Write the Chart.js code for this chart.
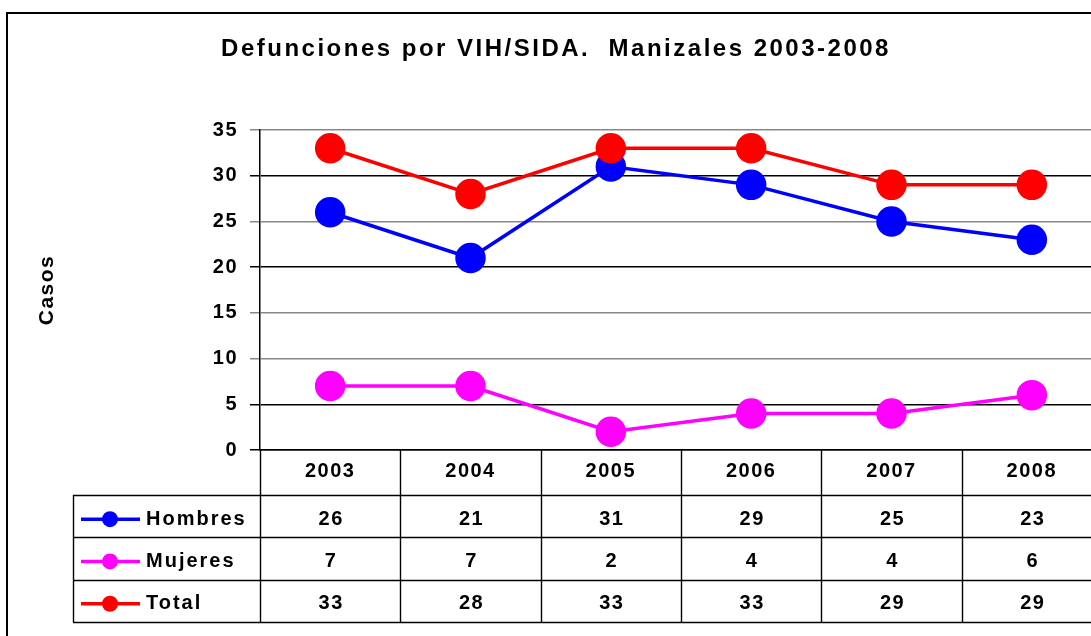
<!DOCTYPE html>
<html lang="es">
<head>
  <meta charset="UTF-8">
  <title>Defunciones por VIH/SIDA</title>
  <style>
    body { margin: 0; background: #fff; overflow: hidden; }
    #wrap { position: absolute; left: 0; top: 0; width: 1119px; height: 636px; }
    #frame {
      position: absolute; left: 6px; top: 12px; width: 1110px; height: 640px;
      border-left: 2px solid #000; border-top: 2px solid #000;
      pointer-events: none;
    }
  </style>
</head>
<body>
  <div id="wrap"><canvas id="chart" width="1119" height="636"></canvas></div>
  <div id="frame"></div>

  <script src="https://cdn.jsdelivr.net/npm/chart.js"></script>
  <script>
    const FONT = '"Liberation Sans", Arial, sans-serif';

    const years   = ['2003', '2004', '2005', '2006', '2007', '2008'];
    const hombres = [26, 21, 31, 29, 25, 23];
    const mujeres = [7, 7, 2, 4, 4, 6];
    const total   = [33, 28, 33, 33, 29, 29];
    const seriesNames  = ['Hombres', 'Mujeres', 'Total'];
    const seriesColors = ['#0000ff', '#ff00ff', '#ff0000'];
    const yTicks = [0, 5, 10, 15, 20, 25, 30, 35];
    const darkLines = [0, 5, 20, 30];

    // el texto original es mas ancho: se abre con letterSpacing
    const spacing = {
      id: 'spacing',
      beforeDraw(chart) {
        chart.ctx.letterSpacing = '1.5px';
        const tb = chart.titleBlock;
        if (tb && !tb._wrapped) {
          const orig = tb.draw.bind(tb);
          tb.draw = function () {
            chart.ctx.save();
            chart.ctx.letterSpacing = '2.5px';
            orig();
            chart.ctx.restore();
          };
          tb._wrapped = true;
        }
      }
    };

    // tabla de datos bajo el eje x (leyenda + valores)
    const dataTable = {
      id: 'dataTable',
      afterDraw(chart) {
        const ctx = chart.ctx, x = chart.scales.x, area = chart.chartArea;
        const rowH = 42.3, headH = 45;
        const top = area.bottom + headH;
        const legL = 73;
        const right = chart.width;
        const step = x.getPixelForValue(1) - x.getPixelForValue(0);
        ctx.save();
        ctx.strokeStyle = '#000';
        ctx.lineWidth = 1.4;
        for (let r = 0; r <= 3; r++) {
          const y = Math.round(top + r * rowH) + 0.5;
          ctx.beginPath(); ctx.moveTo(legL, y); ctx.lineTo(right, y); ctx.stroke();
        }
        const bottom = Math.round(top + 3 * rowH) + 0.5;
        ctx.beginPath(); ctx.moveTo(legL + 0.5, top); ctx.lineTo(legL + 0.5, bottom); ctx.stroke();
        for (let i = 0; i <= years.length; i++) {
          const bx = Math.round(x.getPixelForValue(i) - step / 2) + 0.5;
          ctx.beginPath(); ctx.moveTo(bx, area.bottom); ctx.lineTo(bx, bottom); ctx.stroke();
        }
        ctx.font = 'bold 20px ' + FONT;
        ctx.textBaseline = 'middle';
        chart.data.datasets.forEach((ds, r) => {
          const cy = top + r * rowH + rowH / 2 + 3;
          ctx.strokeStyle = ds.borderColor;
          ctx.lineWidth = 3.5;
          ctx.beginPath(); ctx.moveTo(81, cy); ctx.lineTo(140, cy); ctx.stroke();
          ctx.fillStyle = ds.borderColor;
          ctx.beginPath(); ctx.arc(110, cy, 8, 0, 2 * Math.PI); ctx.fill();
          ctx.fillStyle = '#000';
          ctx.letterSpacing = '2px';
          ctx.textAlign = 'left';
          ctx.fillText(ds.label, 146, cy);
          ctx.letterSpacing = '1.5px';
          ctx.textAlign = 'center';
          ds.data.forEach((v, i) => ctx.fillText(String(v), x.getPixelForValue(i) + 1, cy));
        });
        ctx.restore();
      }
    };

    const allData = [hombres, mujeres, total];
    const datasets = allData.map((d, i) => ({
      label: seriesNames[i],
      data: d,
      borderColor: seriesColors[i],
      backgroundColor: seriesColors[i],
      pointBackgroundColor: seriesColors[i],
      pointBorderColor: seriesColors[i],
      borderWidth: 3.5,
      pointRadius: 13.5,
      pointHoverRadius: 13.5,
      tension: 0,
      order: 3 - i
    }));

    new Chart(document.getElementById('chart'), {
      type: 'line',
      data: { labels: years, datasets: datasets },
      plugins: [spacing, dataTable],
      options: {
        responsive: false,
        animation: false,
        layout: { padding: { left: 0, right: 7, top: 0, bottom: 0 } },
        plugins: {
          legend: { display: false },
          tooltip: { enabled: false },
          title: {
            display: true,
            text: 'Defunciones por VIH/SIDA.  Manizales 2003-2008',
            color: '#000',
            font: { family: FONT, size: 24, weight: 'bold', lineHeight: 1.2 },
            padding: { top: 35, bottom: 66.2 }
          }
        },
        scales: {
          x: {
            type: 'category',
            offset: true,
            grid: { display: false, drawTicks: false },
            border: { display: true, color: '#000', width: 1.5 },
            ticks: {
              color: '#000',
              padding: 9,
              font: { family: FONT, size: 20, weight: 'bold' }
            },
            afterFit(s) { s.height = 186; }
          },
          y: {
            min: 0, max: 35,
            afterBuildTicks(s) { s.ticks = yTicks.map(v => ({ value: v })); },
            grid: {
              color: c => darkLines.includes(c.tick.value) ? '#000' : '#888',
              lineWidth: 1.5,
              tickLength: 10
            },
            border: { display: true, color: '#000', width: 1.5 },
            ticks: {
              color: '#000',
              padding: 12,
              font: { family: FONT, size: 20, weight: 'bold' }
            },
            title: {
              display: true,
              text: 'Casos',
              color: '#000',
              font: { family: FONT, size: 21, weight: 'bold', lineHeight: 1.2 },
              padding: { top: 35, bottom: 0 }
            },
            afterFit(s) { s.width = 260; }
          }
        }
      }
    });
  </script>
</body>
</html>
